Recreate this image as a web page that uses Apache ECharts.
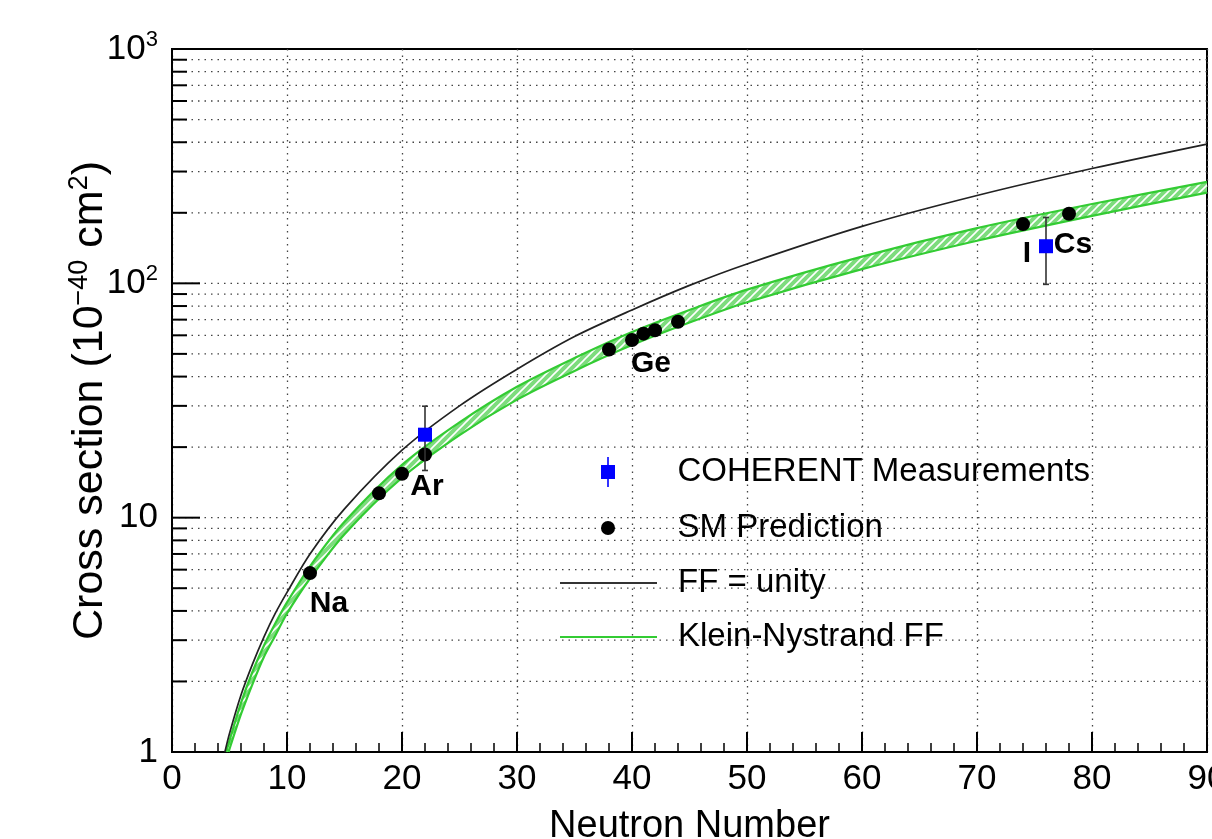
<!DOCTYPE html>
<html><head><meta charset="utf-8">
<script src="https://cdn.jsdelivr.net/npm/echarts@6/dist/echarts.min.js"></script>
<style>html,body{margin:0;padding:0;background:#fff}#c{width:1212px;height:839px}</style>
</head><body><div id="c"></div>
<script>
const FONT = '"Liberation Sans", Arial, Helvetica, sans-serif';

// FF = unity curve (neutron number, cross section in 1e-40 cm^2)
const unityN  = [4.6, 5, 6, 7, 8, 9, 10, 12, 15, 20, 25, 30, 35, 40, 45, 50, 60, 70, 80, 90];
const unityXS = [1.0, 1.2, 1.75, 2.37, 3.1, 3.92, 4.8, 7.0, 10.9, 19.4, 30, 43, 59.3, 77, 98, 121, 175, 237, 309, 393];
// Klein-Nystrand FF band edges
const knUpperN  = [4.72, 5, 6, 7, 8, 9, 10, 12, 15, 20, 25, 30, 35, 40, 45, 50, 60, 70, 80, 90];
const knUpperXS = [1.0, 1.12, 1.62, 2.2, 2.85, 3.55, 4.35, 6.2, 9.6, 16.8, 25.5, 36.2, 48, 62, 77, 94, 130, 172, 218, 271];
const knLowerN  = [4.93, 5, 6, 7, 8, 9, 10, 12, 15, 20, 25, 30, 35, 40, 45, 50, 60, 70, 80, 90];
const knLowerXS = [1.0, 1.03, 1.45, 1.95, 2.55, 3.15, 3.9, 5.5, 8.5, 14.8, 22.5, 31.9, 42.3, 54.5, 68, 83, 115, 152, 194, 244];
// SM predictions
const smN    = [12, 18, 20, 22, 38, 40, 41, 42, 44, 74, 78];
const smXS   = [5.8, 12.7, 15.4, 18.6, 52.2, 57.3, 61.0, 63.1, 68.6, 179, 198];
const smTags = ['Na', '', '', 'Ar', '', 'Ge', '', '', '', 'I', 'Cs'];
// COHERENT measurements
const measN    = [22, 76];
const measXS   = [22.6, 144];
const measLow  = [15.9, 99];
const measHigh = [29.9, 191];
// axis ticks
const xTickStep = 10;
const yDecades = [1, 10, 100, 1000];
const yGridValues = [2,3,4,5,6,7,8,9,10,20,30,40,50,60,70,80,90,100,200,300,400,500,600,700,800,900];

const tagOffset = {Na:[19,31], Ar:[2,32], Ge:[19,24], I:[4,30], Cs:[4,31]};

// hatch pattern for the band
const pc = document.createElement('canvas'); pc.width = 8; pc.height = 8;
const g = pc.getContext('2d');
g.fillStyle = '#7ddc7d'; g.fillRect(0,0,8,8);
g.strokeStyle = '#ffffff'; g.lineWidth = 1.6;
g.beginPath(); g.moveTo(0,8); g.lineTo(8,0); g.moveTo(-4,4); g.lineTo(4,-4); g.moveTo(4,12); g.lineTo(12,4); g.stroke();

const chart = echarts.init(document.getElementById('c'), null, {renderer:'canvas'});

const legendBase = {orient:'vertical', left:560, itemWidth:97, padding:0, itemGap:0, selectedMode:false,
  textStyle:{fontFamily:FONT, fontSize:33, color:'#000', lineHeight:36, padding:[0,0,0,16]}};
const lineIcon = 'path://M0,0 H97 V1.8 H0 Z';
const SMOOTH = 0.3;

const option = {
  backgroundColor:'#fff',
  animation:false,
  grid:{left:172, top:49, right:5, bottom:87, show:true, borderColor:'#000', borderWidth:2,
        backgroundColor:'transparent', containLabel:false, outerBoundsMode:'none'},
  xAxis:{type:'value', min:0, max:90, interval:xTickStep,
    axisLine:{onZero:false, lineStyle:{color:'#000', width:2}},
    axisTick:{inside:true, length:20, lineStyle:{color:'#000', width:2}},
    minorTick:{show:true, splitNumber:5, length:9, lineStyle:{color:'#000', width:1.5}},
    splitLine:{show:true, lineStyle:{type:[1.5,5], color:'#444', width:1.3}},
    axisLabel:{fontSize:35, fontFamily:FONT, color:'#000', margin:10},
    name:'Neutron Number', nameLocation:'middle', nameGap:56, nameMoveOverlap:false,
    nameTextStyle:{fontSize:38, fontFamily:FONT, color:'#000'}},
  yAxis:{type:'log', logBase:10, min:1, max:1000,
    axisLine:{show:true, onZero:false, lineStyle:{color:'#000', width:2}},
    axisTick:{show:false}, minorTick:{show:false}, splitLine:{show:false},
    axisLabel:{margin:14, color:'#000', fontFamily:FONT, fontSize:35,
      formatter: v => { const e = Math.round(Math.log10(v)); return e === 0 ? '1' : e === 1 ? '10' : '10{s|' + e + '}'; },
      rich:{s:{fontSize:22, fontFamily:FONT, color:'#000', padding:[0,0,18,0]}}},
    name:'Cross section (10{s|\u221240} cm{s|2})', nameLocation:'middle', nameGap:57, nameRotate:90, nameMoveOverlap:false,
    nameTextStyle:{fontSize:43, fontFamily:FONT, color:'#000',
      rich:{s:{fontSize:27, fontFamily:FONT, color:'#000', padding:[0,0,22,0]}}}},
  legend:[
    Object.assign({}, legendBase, {left:601, top:454, itemHeight:30, data:[{name:'COHERENT Measurements',
      icon:'path://M6.2,0 H7.8 V8 H14 V22 H7.8 V30 H6.2 V22 H0 V8 H6.2 Z'}]}),
    Object.assign({}, legendBase, {left:601, top:510, itemHeight:14, data:[{name:'SM Prediction', icon:'circle'}]}),
    Object.assign({}, legendBase, {top:565, itemHeight:14, data:[{name:'FF = unity', icon:lineIcon}]}),
    Object.assign({}, legendBase, {top:619, itemHeight:14, data:[{name:'Klein-Nystrand FF', icon:lineIcon}]})
  ],
  series:[
    {name:'ygrid', type:'custom', z:1, silent:true,
      data: yGridValues.map(v => [0, v]), encode:{x:0, y:1},
      renderItem:(params, api) => {
        const v = api.value(1);
        const a = api.coord([0, v]); const b = api.coord([90, v]);
        const major = yDecades.indexOf(v) >= 0;
        return {type:'group', children:[
          {type:'line', shape:{x1:a[0], y1:a[1], x2:b[0], y2:b[1]}, style:{stroke:'#444', lineWidth:1.3, lineDash:[1.5,5]}},
          {type:'line', shape:{x1:a[0], y1:a[1], x2:a[0] + (major ? 28 : 15), y2:a[1]}, style:{stroke:'#000', lineWidth:2}}
        ]};
      }},
    {name:'KN band', type:'custom', z:2, silent:true, clip:true,
      data:[[0, 1]], encode:{x:0, y:1},
      renderItem:(params, api) => {
        const pts = [];
        for (let i = 0; i < knUpperN.length; i++) pts.push(api.coord([knUpperN[i], knUpperXS[i]]));
        for (let i = knLowerN.length - 1; i >= 0; i--) pts.push(api.coord([knLowerN[i], knLowerXS[i]]));
        return {type:'polygon', shape:{points:pts}, style:{fill:{image:pc, repeat:'repeat'}, stroke:null}};
      }},
    {name:'Klein-Nystrand FF', type:'line', z:3, symbol:'none', smooth:SMOOTH,
      data: knUpperN.map((n,i) => [n, knUpperXS[i]]), lineStyle:{color:'#33cc33', width:2.2}, itemStyle:{color:'#33cc33'}},
    {name:'KN lower', type:'line', z:3, symbol:'none', smooth:SMOOTH,
      data: knLowerN.map((n,i) => [n, knLowerXS[i]]), lineStyle:{color:'#33cc33', width:2.2}, itemStyle:{color:'#33cc33'}},
    {name:'FF = unity', type:'line', z:3, symbol:'none', smooth:SMOOTH,
      data: unityN.map((n,i) => [n, unityXS[i]]), lineStyle:{color:'#222', width:1.7}, itemStyle:{color:'#333'}},
    {name:'SM Prediction', type:'scatter', z:5, symbol:'circle', symbolSize:14, itemStyle:{color:'#000', opacity:1},
      data: smN.map((n,i) => {
        const t = smTags[i];
        const d = {value:[n, smXS[i]]};
        if (t) d.label = {show:true, formatter:t, position:'inside', offset:tagOffset[t], color:'#000', opacity:1,
          fontFamily:FONT, fontSize:30, fontWeight:'bold'};
        return d;
      })},
    {name:'errbars', type:'custom', z:6, silent:true,
      data: measN.map((n,i) => [n, measXS[i], measLow[i], measHigh[i]]), encode:{x:0, y:1},
      renderItem:(params, api) => {
        const x = api.value(0);
        const t = api.coord([x, api.value(3)]); const b = api.coord([x, api.value(2)]);
        return {type:'group', children:[
          {type:'line', shape:{x1:t[0], y1:t[1], x2:b[0], y2:b[1]}, style:{stroke:'#333', lineWidth:1.6}},
          {type:'line', shape:{x1:t[0]-3, y1:t[1], x2:t[0]+3, y2:t[1]}, style:{stroke:'#333', lineWidth:1.6}},
          {type:'line', shape:{x1:b[0]-3, y1:b[1], x2:b[0]+3, y2:b[1]}, style:{stroke:'#333', lineWidth:1.6}}
        ]};
      }},
    {name:'COHERENT Measurements', type:'scatter', z:7, symbol:'rect', symbolSize:14, itemStyle:{color:'#0000ff', opacity:1},
      data: measN.map((n,i) => [n, measXS[i]])}
  ]
};
chart.setOption(option);
</script>
</body></html>
